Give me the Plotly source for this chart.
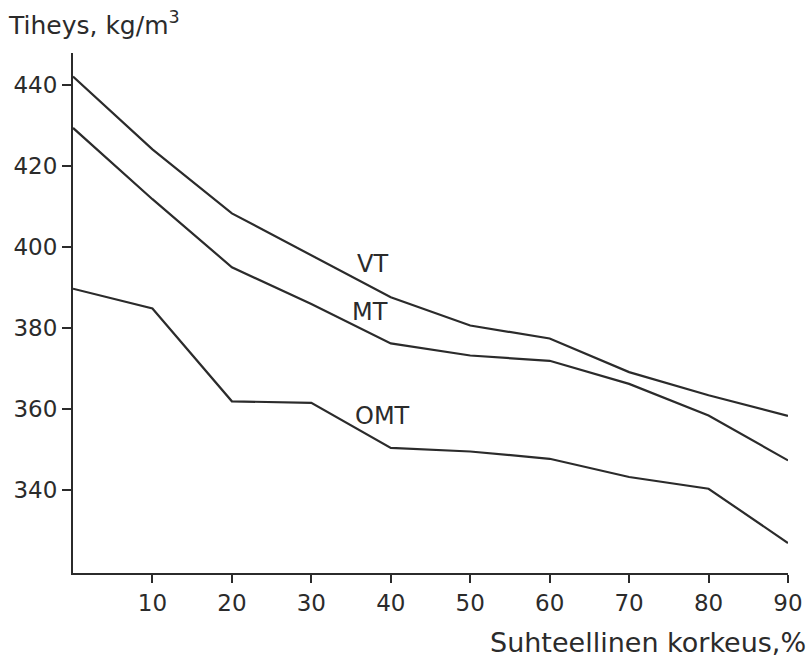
import plotly.graph_objects as go

# Relative height (%) along the stem
height_pct = [0, 10, 20, 30, 40, 50, 60, 70, 80, 90]

# Wood density, kg/m3, by forest site type
density_vt = [442.2, 424.2, 408.4, 398.0, 387.7, 380.7, 377.5, 369.2, 363.5, 358.4]
density_mt = [429.5, 411.9, 395.1, 386.0, 376.3, 373.3, 372.0, 366.3, 358.5, 347.4]
density_omt = [389.8, 384.9, 362.0, 361.6, 350.5, 349.6, 347.8, 343.3, 340.4, 327.0]

series = [("VT", density_vt), ("MT", density_mt), ("OMT", density_omt)]
# In-plot label positions (x, y in data units)
label_pos = {"VT": (37.7, 396.0), "MT": (37.4, 384.0), "OMT": (39.0, 358.3)}

x_ticks = [10, 20, 30, 40, 50, 60, 70, 80, 90]
y_ticks = [340, 360, 380, 400, 420, 440]

ink = "#2b2b2b"
font_family = "DejaVu Sans"

fig = go.Figure()
for name, vals in series:
    fig.add_trace(go.Scatter(x=height_pct, y=vals, mode="lines", name=name,
                             line=dict(color=ink, width=2.2), showlegend=False))

for name, (lx, ly) in label_pos.items():
    fig.add_annotation(x=lx, y=ly, text=name, showarrow=False,
                       font=dict(family=font_family, size=24, color=ink))

W, H = 810, 661
ml, mr, mt, mb = 73, 22, 53, 88
pw, ph = W - ml - mr, H - mt - mb

def px(xp):
    return (xp - ml) / pw

def py(yp):
    return (H - mb - yp) / ph

fig.add_annotation(xref="paper", yref="paper", x=px(6), y=py(24),
                   xanchor="left", yanchor="middle", showarrow=False,
                   text="Tiheys, kg/m<sup>3</sup>",
                   font=dict(family=font_family, size=25, color=ink))
fig.add_annotation(xref="paper", yref="paper", x=px(808), y=py(642),
                   xanchor="right", yanchor="middle", showarrow=False,
                   text="Suhteellinen korkeus,%",
                   font=dict(family=font_family, size=27, color=ink))

fig.update_xaxes(range=[0, 90], tickvals=x_ticks, ticks="outside", ticklen=8,
                 tickwidth=2, tickcolor=ink, showline=True, linecolor=ink,
                 linewidth=2, showgrid=False, zeroline=False, automargin=False,
                 tickfont=dict(family=font_family, size=23, color=ink))
fig.update_yaxes(range=[319.6, 448], tickvals=y_ticks, ticks="outside", ticklen=9,
                 tickwidth=2, tickcolor=ink, showline=True, linecolor=ink,
                 linewidth=2, showgrid=False, zeroline=False, automargin=False,
                 tickfont=dict(family=font_family, size=23, color=ink))

fig.update_layout(width=W, height=H, margin=dict(l=ml, r=mr, t=mt, b=mb),
                  paper_bgcolor="white", plot_bgcolor="white")

fig.write_html("out.html")
